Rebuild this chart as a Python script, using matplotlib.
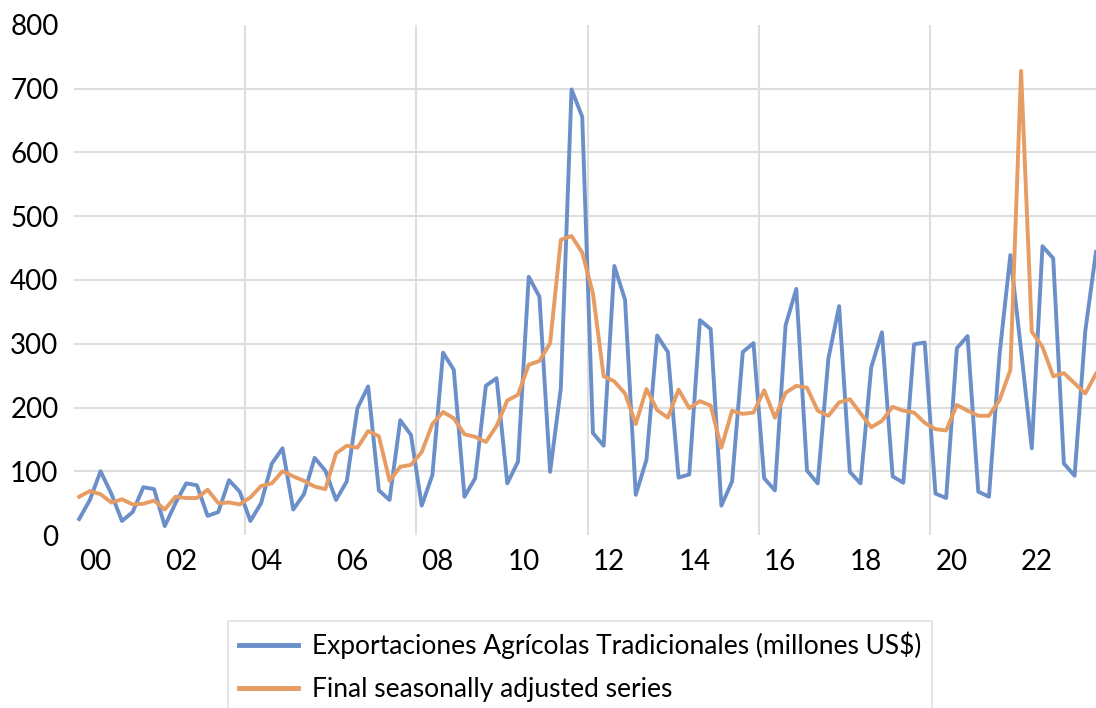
import numpy as np
from matplotlib import pyplot as plt

plt.rcParams['font.family'] = ['Lato', 'DejaVu Sans']

# quarterly data 2000Q1 - 2023Q4
exportaciones = [25, 55, 100, 65, 22, 36, 75, 72, 14, 50, 81, 78, 30, 36, 86, 68,
                 22, 50, 112, 136, 40, 64, 121, 101, 55, 84, 199, 233, 70, 55, 180, 157,
                 46, 94, 286, 259, 60, 89, 234, 246, 81, 115, 405, 374, 99, 230, 699, 656,
                 160, 140, 422, 369, 63, 118, 313, 287, 90, 95, 337, 323, 46, 84, 287, 301,
                 89, 70, 329, 386, 101, 81, 277, 359, 99, 81, 263, 318, 92, 82, 299, 302,
                 65, 58, 293, 312, 68, 60, 285, 439, 290, 136, 453, 434, 112, 93, 320, 444]
ajustada = [60, 69, 64, 51, 56, 48, 49, 54, 40, 60, 58, 58, 71, 50, 51, 48,
            59, 77, 81, 100, 92, 85, 76, 72, 128, 140, 137, 163, 155, 85, 107, 110,
            130, 174, 193, 183, 158, 154, 146, 171, 211, 220, 267, 273, 301, 463, 469, 443,
            379, 249, 241, 222, 174, 229, 196, 184, 228, 199, 210, 203, 137, 195, 190, 192,
            227, 184, 223, 234, 231, 195, 187, 208, 213, 191, 169, 179, 201, 195, 192, 176,
            166, 164, 204, 195, 187, 187, 212, 259, 728, 319, 295, 249, 254, 238, 222, 253]
year_labels = ['00', '02', '04', '06', '08', '10', '12', '14', '16', '18', '20', '22']
label_1 = 'Exportaciones Agrícolas Tradicionales (millones US$)'
label_2 = 'Final seasonally adjusted series'

x = np.arange(len(exportaciones))

fig = plt.figure(figsize=(10.96, 7.08), dpi=100)
ax = fig.add_axes([73.8/1096, 1-535/708, 1-73.8/1096, (535-25)/708])

ax.plot(x, exportaciones, color='#6B8FC9', lw=2.8, label=label_1, zorder=3)
ax.plot(x, ajustada, color='#E69C63', lw=2.8, label=label_2, zorder=4)

ax.set_xlim(-0.5, len(x)-1)
ax.set_ylim(0, 800)

ax.set_yticks(np.arange(0, 801, 100))
ax.set_yticks(np.arange(100, 701, 100), minor=True)
ax.yaxis.remove_overlapping_locs = False
ax.set_xticks(np.arange(len(year_labels))*8 + 1.5)
ax.set_xticklabels(year_labels)
ax.set_xticks(np.arange(16, len(x), 16) - 0.5, minor=True)
ax.grid(which='minor', color='#DEDEDE', lw=1.5)
ax.tick_params(which='both', length=0)
ax.tick_params(axis='y', labelsize=20, pad=11)
ax.tick_params(axis='x', labelsize=20, pad=10)
for s in ax.spines.values():
    s.set_visible(False)

leg = fig.legend(loc='upper left', bbox_to_anchor=(228/1096, 1-621/708),
                 fontsize=19, frameon=True, fancybox=False, edgecolor='#D9D9D9',
                 handlelength=2.25, handletextpad=0.55, labelspacing=0.68, borderpad=0.4,
                 borderaxespad=0)
leg.get_frame().set_linewidth(1.2)
for line in leg.get_lines():
    line.set_linewidth(3.5)

plt.savefig('out.png', dpi=100)
